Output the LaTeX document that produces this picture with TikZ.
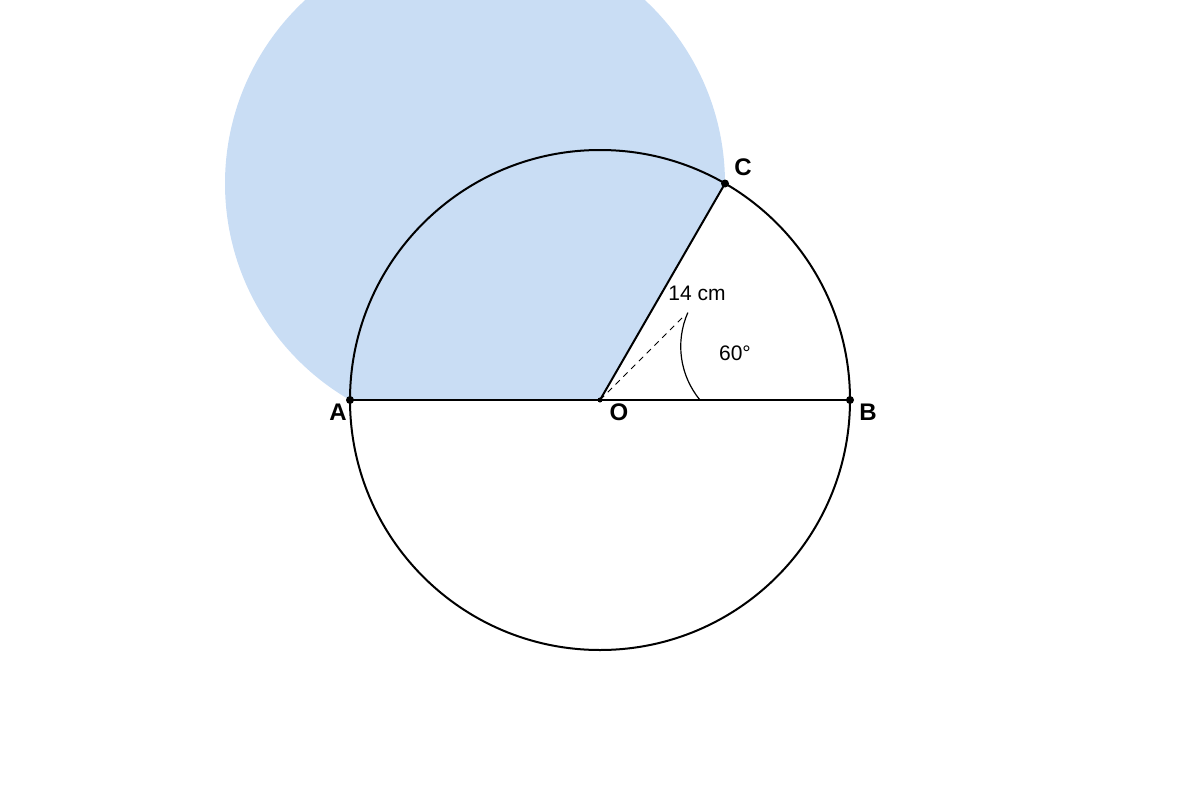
\documentclass[tikz,border=0pt]{standalone}
\usepackage{fontspec}
\setmainfont{Liberation Sans}
\definecolor{sectorblue}{RGB}{201,221,244}
\begin{document}
\begin{tikzpicture}[x=0.5pt,y=0.5pt,
  ptlabel/.style={font=\fontsize{12}{14}\selectfont\bfseries, inner sep=0pt},
  txtlabel/.style={font=\fontsize{10.5}{12}\selectfont, inner sep=0pt},
  dot/.style={fill=black, circle, inner sep=0pt, minimum size=4pt},
  smalldot/.style={fill=black, circle, inner sep=0pt, minimum size=2.5pt}]
\useasboundingbox (0,0) rectangle (1200,800);
\coordinate (O) at (600,400);
\coordinate (A) at (350,400);
\coordinate (B) at (850,400);
\coordinate (C) at (725,616.5);
% shaded region
\begin{scope}
  \clip (600,400) -- (830.4,800) -- (0,800) -- (0,400) -- cycle;
  \fill[fill=sectorblue] (475,616.5) circle[radius=250];
\end{scope}
\draw[line width=1pt] (O) circle[radius=250];
\draw[line width=1pt] (A) -- (B);
\draw[line width=1pt] (O) -- (C);
\coordinate (D) at (682,482);
\draw[line width=0.45pt, dash pattern=on 3pt off 2.5pt] (O) -- (D);
\coordinate (E) at (700,400);
\draw[line width=0.6pt] (E) arc[start angle=219.6, end angle=156.2, radius=84];
\node[dot] (dA) at (A) {};
\node[dot] (dB) at (B) {};
\node[dot] (dC) at (C) {};
\node[smalldot] (dO) at (O) {};
\node[ptlabel] (lC) at (743,633) {C};
\node[ptlabel] (lA) at (338,388) {A};
\node[ptlabel] (lO) at (619,388) {O};
\node[ptlabel] (lB) at (868,388) {B};
\node[txtlabel] (len) at (697,507) {14 cm};
\node[txtlabel] (ang) at (735,447) {60°};
\end{tikzpicture}
\end{document}
